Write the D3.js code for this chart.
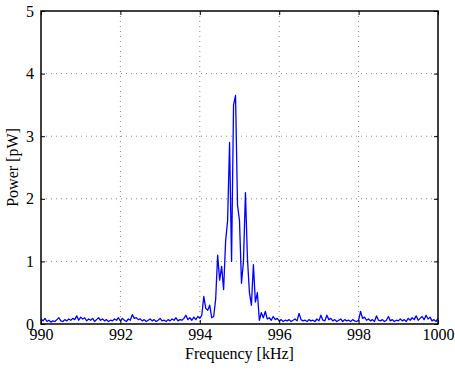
<!DOCTYPE html>
<html>
<head>
<meta charset="utf-8">
<script src="https://cdn.jsdelivr.net/npm/d3@7"></script>
<style>
  body { margin: 0; background: #fff; }
</style>
</head>
<body>
<script>
// Spectrum samples, 0.05 kHz apart starting at 990 kHz
const startFreq = 990;
const freqStep = 0.05;
const power = [
  0.08, 0.05, 0.09, 0.04, 0.06, 0.03, 0.05, 0.04, 0.07, 0.10,
  0.05, 0.04, 0.07, 0.05, 0.08, 0.06, 0.09, 0.07, 0.13, 0.06,
  0.11, 0.08, 0.10, 0.05, 0.08, 0.06, 0.09, 0.04, 0.07, 0.10,
  0.06, 0.08, 0.05, 0.07, 0.04, 0.06, 0.05, 0.08, 0.06, 0.10,
  0.05, 0.09, 0.06, 0.04, 0.08, 0.06, 0.15, 0.09, 0.10, 0.07,
  0.08, 0.05, 0.07, 0.04, 0.06, 0.08, 0.05, 0.07, 0.04, 0.06,
  0.09, 0.05, 0.06, 0.04, 0.07, 0.05, 0.08, 0.06, 0.10, 0.05,
  0.07, 0.06, 0.09, 0.14, 0.07, 0.10, 0.06, 0.11, 0.07, 0.12,
  0.09, 0.14, 0.44, 0.25, 0.22, 0.30, 0.10, 0.12, 0.40, 1.10,
  0.70, 0.92, 0.55, 1.32, 1.65, 2.90, 1.00, 3.50, 3.65, 1.90,
  1.65, 0.65, 1.00, 2.10, 1.05, 0.50, 0.30, 0.95, 0.35, 0.50,
  0.06, 0.18, 0.10, 0.20, 0.08, 0.10, 0.06, 0.12, 0.07, 0.09,
  0.05, 0.07, 0.04, 0.06, 0.05, 0.07, 0.04, 0.06, 0.08, 0.05,
  0.17, 0.07, 0.05, 0.06, 0.04, 0.07, 0.05, 0.06, 0.04, 0.08,
  0.05, 0.14, 0.06, 0.05, 0.14, 0.07, 0.09, 0.05, 0.07, 0.04,
  0.06, 0.08, 0.04, 0.07, 0.05, 0.06, 0.04, 0.07, 0.05, 0.04,
  0.06, 0.20, 0.09, 0.11, 0.06, 0.08, 0.05, 0.07, 0.04, 0.13,
  0.06, 0.05, 0.07, 0.04, 0.06, 0.12, 0.05, 0.07, 0.04, 0.06,
  0.05, 0.08, 0.05, 0.07, 0.04, 0.09, 0.06, 0.10, 0.07, 0.13,
  0.06, 0.09, 0.12, 0.07, 0.14, 0.08, 0.11, 0.05, 0.07, 0.04,
  0.09
];
const xTicks = [990, 992, 994, 996, 998, 1000];
const yTicks = [0, 1, 2, 3, 4, 5];

const data = power.map((p, i) => ({ f: startFreq + i * freqStep, p: p }));

const serif = '"Liberation Serif", "Times New Roman", serif';
const W = 455, H = 369;
const margin = { top: 11, right: 17, bottom: 45, left: 41 };
const width = W - margin.left - margin.right;
const height = H - margin.top - margin.bottom;

const svg = d3.select("body").append("svg")
  .attr("width", W)
  .attr("height", H);

const g = svg.append("g")
  .attr("transform", `translate(${margin.left},${margin.top})`);

const x = d3.scaleLinear().domain([990, 1000]).range([0, width]);
const y = d3.scaleLinear().domain([0, 5]).range([height, 0]);

// dotted grid
g.append("g").selectAll("line")
  .data(xTicks.slice(1, -1))
  .join("line")
  .attr("x1", d => x(d)).attr("x2", d => x(d))
  .attr("y1", 0).attr("y2", height)
  .attr("stroke", "#888").attr("stroke-width", 1)
  .attr("stroke-dasharray", "1,4");

g.append("g").selectAll("line")
  .data(yTicks.slice(1, -1))
  .join("line")
  .attr("x1", 0).attr("x2", width)
  .attr("y1", d => y(d)).attr("y2", d => y(d))
  .attr("stroke", "#888").attr("stroke-width", 1)
  .attr("stroke-dasharray", "1,4");

// spectrum line
const line = d3.line().x(d => x(d.f)).y(d => y(d.p));
g.append("path")
  .datum(data)
  .attr("fill", "none")
  .attr("stroke", "#0000ff")
  .attr("stroke-width", 1.3)
  .attr("stroke-linejoin", "round")
  .attr("d", line);

// axes with inward ticks on all four sides
function styleAxis(sel) {
  sel.attr("font-family", serif).attr("font-size", 16);
  sel.select(".domain").remove();
  sel.selectAll(".tick line").attr("stroke", "#000");
  sel.selectAll("text").attr("fill", "#000");
}

g.append("g")
  .attr("transform", `translate(0,${height})`)
  .call(d3.axisBottom(x).tickValues(xTicks).tickSize(-4).tickFormat(d3.format("d")))
  .call(styleAxis)
  .selectAll("text").attr("y", 16).attr("dy", 0);

g.append("g")
  .call(d3.axisTop(x).tickValues(xTicks).tickSize(-4).tickFormat(""))
  .call(styleAxis);

g.append("g")
  .call(d3.axisLeft(y).tickValues(yTicks).tickSize(-4).tickPadding(7).tickFormat(d3.format("d")))
  .call(styleAxis);

g.append("g")
  .attr("transform", `translate(${width},0)`)
  .call(d3.axisRight(y).tickValues(yTicks).tickSize(-4).tickFormat(""))
  .call(styleAxis);

// box
g.append("rect")
  .attr("width", width).attr("height", height)
  .attr("fill", "none")
  .attr("stroke", "#000")
  .attr("stroke-width", 1.5);

// axis labels
svg.append("text")
  .attr("x", margin.left + width / 2)
  .attr("y", 359)
  .attr("text-anchor", "middle")
  .attr("font-family", serif)
  .attr("font-size", 16)
  .text("Frequency [kHz]");

svg.append("text")
  .attr("transform", `translate(18,${margin.top + height / 2}) rotate(-90)`)
  .attr("text-anchor", "middle")
  .attr("font-family", serif)
  .attr("font-size", 16)
  .text("Power [pW]");
</script>
</body>
</html>
